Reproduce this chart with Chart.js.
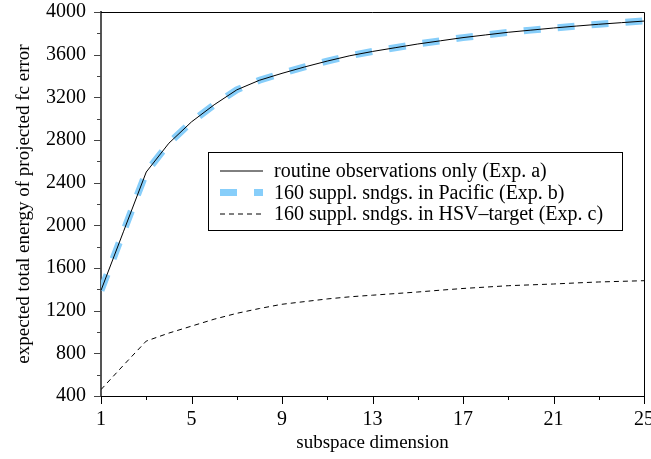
<!DOCTYPE html>
<html>
<head>
<meta charset="utf-8">
<script src="https://cdn.jsdelivr.net/npm/chart.js@4.4.1/dist/chart.umd.min.js"></script>
<style>
    html, body { margin: 0; padding: 0; background: #fff; }
    #wrap { width: 651px; height: 459px; }
</style>
</head>
<body>
<div id="wrap"><canvas id="chart" width="651" height="459"></canvas></div>
<script>
// subspace dimension
const dims = [1, 2, 3, 4, 5, 6, 7, 8, 9, 10, 11, 12, 13, 14, 15, 16, 17, 18, 19, 20, 21, 22, 23, 24, 25];

// Exp. a: routine observations only
const expA = [1390, 1945, 2500, 2770, 2970, 3130, 3270, 3360, 3425, 3485, 3540, 3590, 3630,
    3665, 3700, 3730, 3760, 3785, 3810, 3830, 3850, 3868, 3885, 3900, 3915];
// Exp. b: 160 suppl. sndgs. in Pacific
const expB = [1390, 1945, 2500, 2770, 2970, 3130, 3270, 3360, 3425, 3485, 3540, 3590, 3630,
    3665, 3700, 3730, 3760, 3785, 3810, 3830, 3850, 3868, 3885, 3900, 3918];
// Exp. c: 160 suppl. sndgs. in HSV-target
const expC = [460, 690, 915, 990, 1055, 1120, 1175, 1220, 1260, 1285, 1310, 1330, 1345,
    1360, 1375, 1392, 1408, 1421, 1434, 1442, 1450, 1460, 1469, 1475, 1481];

const seriesLabels = [
    "routine observations only (Exp. a)",
    "160 suppl. sndgs. in Pacific (Exp. b)",
    "160 suppl. sndgs. in HSV\u2013target (Exp. c)",
];
const xTickLabels = [1, 5, 9, 13, 17, 21, 25];
const yTickLabels = [400, 800, 1200, 1600, 2000, 2400, 2800, 3200, 3600, 4000];

const FONT = "'Liberation Serif', 'Times New Roman', serif";

function toPoints(values) {
    return values.map((v, i) => ({ x: dims[i], y: v }));
}

// draws top/right frame, major + minor tick marks and the boxed legend
const framePlugin = {
    id: "framePlugin",
    afterDraw(chart) {
        const ctx = chart.ctx;
        const area = chart.chartArea;
        const xs = chart.scales.x;
        const ys = chart.scales.y;
        ctx.save();
        ctx.strokeStyle = "#000";
        ctx.lineWidth = 1;
        ctx.beginPath();
        ctx.moveTo(area.left, area.top + 0.5);
        ctx.lineTo(area.right + 0.5, area.top + 0.5);
        ctx.lineTo(area.right + 0.5, area.bottom);
        ctx.stroke();

        // x ticks
        ctx.beginPath();
        xs.ticks.forEach((t) => {
            const px = Math.round(xs.getPixelForValue(t.value)) + 0.5;
            const len = xTickLabels.includes(t.value) ? 8 : 4;
            ctx.moveTo(px, area.bottom);
            ctx.lineTo(px, area.bottom + len);
        });
        ctx.stroke();

        // y ticks
        ctx.strokeStyle = "#444";
        ctx.beginPath();
        ys.ticks.forEach((t) => {
            const py = Math.round(ys.getPixelForValue(t.value)) + 0.5;
            const len = yTickLabels.includes(t.value) ? 7 : 4;
            ctx.moveTo(area.left - len, py);
            ctx.lineTo(area.left, py);
        });
        ctx.stroke();

        // legend
        const box = { left: 208, top: 152, right: 622, bottom: 230 };
        ctx.fillStyle = "#fff";
        ctx.fillRect(box.left, box.top, box.right - box.left, box.bottom - box.top);
        ctx.strokeStyle = "#000";
        ctx.lineWidth = 1;
        ctx.strokeRect(box.left + 0.5, box.top + 0.5, box.right - box.left, box.bottom - box.top);
        ctx.font = "20px " + FONT;
        ctx.textBaseline = "middle";
        chart.data.datasets.forEach((ds, i) => {
            const y = 171 + i * 21.5;
            ctx.save();
            ctx.strokeStyle = ds.borderColor;
            ctx.lineWidth = ds.borderWidth;
            ctx.setLineDash(ds.borderDash || []);
            ctx.beginPath();
            ctx.moveTo(220, y);
            ctx.lineTo(263, y);
            ctx.stroke();
            ctx.restore();
            ctx.fillStyle = "#000";
            ctx.fillText(ds.label, 274, y + 1);
        });
        ctx.restore();
    },
};

const ctx = document.getElementById("chart").getContext("2d");
new Chart(ctx, {
    type: "line",
    data: {
        datasets: [
            {
                label: seriesLabels[0],
                data: toPoints(expA),
                borderColor: "#000",
                borderWidth: 1,
                pointRadius: 0,
                tension: 0,
            },
            {
                label: seriesLabels[1],
                data: toPoints(expB),
                borderColor: "#87cefa",
                borderWidth: 7,
                borderDash: [17, 17],
                pointRadius: 0,
                tension: 0,
            },
            {
                label: seriesLabels[2],
                data: toPoints(expC),
                borderColor: "#000",
                borderWidth: 1,
                borderDash: [5, 4],
                pointRadius: 0,
                tension: 0,
            },
        ],
    },
    options: {
        responsive: false,
        animation: false,
        layout: { padding: { top: 12, right: 7, left: 0, bottom: 0 } },
        plugins: {
            legend: { display: false },
            tooltip: { enabled: false },
        },
        scales: {
            x: {
                type: "linear",
                min: 1,
                max: 25,
                afterBuildTicks: (scale) => {
                    scale.ticks = dims.filter((d) => d % 2 === 1).map((v) => ({ value: v }));
                },
                afterFit: (scale) => {
                    scale.height = 63;
                    scale.paddingLeft = 0;
                    scale.paddingRight = 0;
                },
                grid: {
                    drawOnChartArea: false,
                    drawTicks: true,
                    tickLength: 8,
                    tickColor: "rgba(0,0,0,0)",
                },
                border: { display: true, color: "#000", width: 1 },
                ticks: {
                    autoSkip: false,
                    maxRotation: 0,
                    padding: 4,
                    color: "#000",
                    font: { family: FONT, size: 20 },
                    callback: (v) => (xTickLabels.includes(v) ? String(v) : ""),
                },
                title: {
                    display: true,
                    text: "subspace dimension",
                    color: "#000",
                    font: { family: FONT, size: 19 },
                    padding: { top: 0, bottom: 5 },
                },
            },
            y: {
                min: 400,
                max: 4000,
                afterBuildTicks: (scale) => {
                    const t = [];
                    for (let v = 400; v <= 4000; v += 200) t.push({ value: v });
                    scale.ticks = t;
                },
                afterFit: (scale) => {
                    scale.width = 101;
                    scale.paddingTop = 0;
                    scale.paddingBottom = 0;
                },
                grid: {
                    drawOnChartArea: false,
                    drawTicks: true,
                    tickLength: 7,
                    tickColor: "rgba(0,0,0,0)",
                },
                border: { display: true, color: "#555", width: 2 },
                ticks: {
                    autoSkip: false,
                    padding: 8,
                    color: "#000",
                    font: { family: FONT, size: 20 },
                    callback: (v) => (yTickLabels.includes(v) ? String(v) : ""),
                },
                title: {
                    display: true,
                    text: "expected total energy of projected fc error",
                    color: "#000",
                    font: { family: FONT, size: 19 },
                    padding: { top: 13, bottom: 0 },
                },
            },
        },
    },
    plugins: [framePlugin],
});
</script>
</body>
</html>
